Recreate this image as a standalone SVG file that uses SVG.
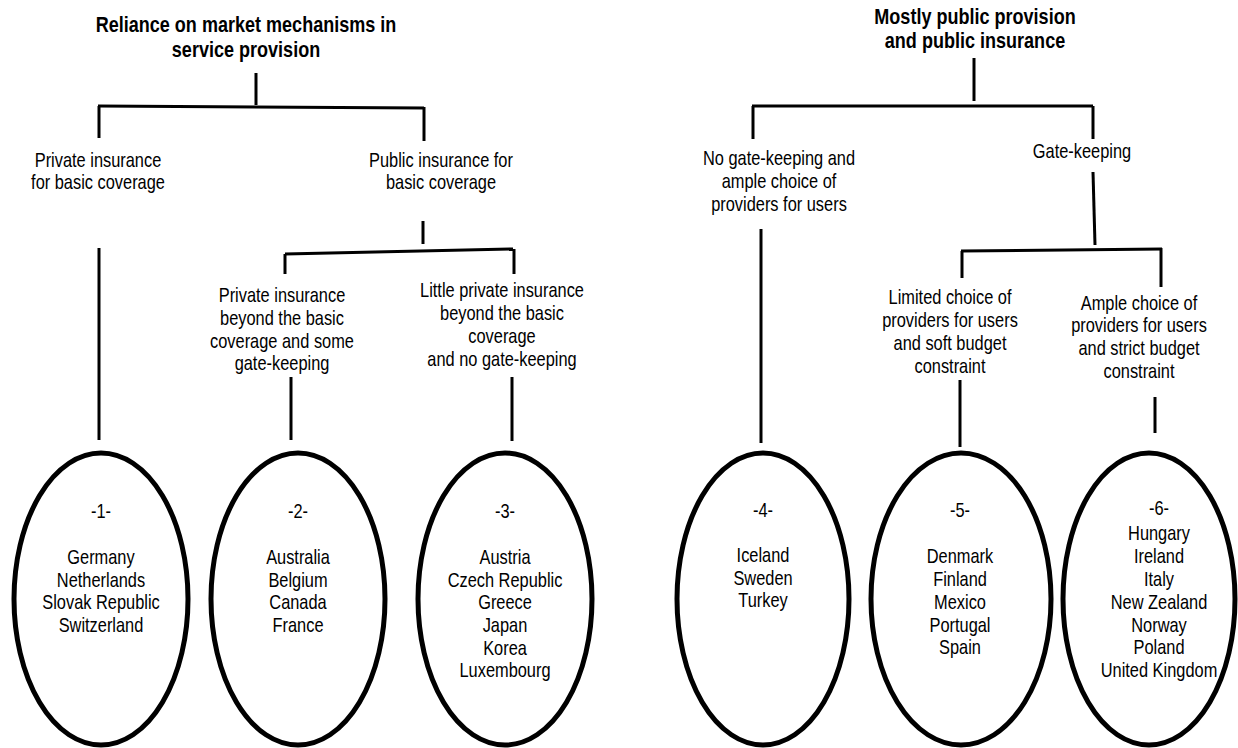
<svg xmlns="http://www.w3.org/2000/svg" width="1238" height="748" viewBox="0 0 1238 748">
<style>
text{font-family:"Liberation Sans",Arial,sans-serif;font-size:20px;fill:#000;text-anchor:middle}
.t{font-weight:bold;font-size:22px}
.c line{stroke:#000;stroke-width:3;fill:none}
ellipse{fill:#fff;stroke:#000;stroke-width:5}
</style>
<rect width="1238" height="748" fill="#fff"/>
<g class="c" id="connectors">
<line x1="256" y1="73" x2="256" y2="105"/>
<line x1="98" y1="106" x2="424" y2="108"/>
<line x1="99" y1="106" x2="99" y2="138"/>
<line x1="424" y1="107" x2="424" y2="141"/>
<line x1="423" y1="221" x2="423" y2="244"/>
<line x1="285" y1="254" x2="513" y2="249"/>
<line x1="285" y1="254" x2="285" y2="274"/>
<line x1="514" y1="249" x2="514" y2="274"/>
<line x1="99" y1="248" x2="99" y2="440"/>
<line x1="291" y1="377" x2="291" y2="440"/>
<line x1="512" y1="377" x2="512" y2="441"/>
<line x1="974" y1="58" x2="974" y2="101"/>
<line x1="752" y1="106" x2="1093" y2="106"/>
<line x1="753" y1="106" x2="753" y2="139"/>
<line x1="1093" y1="106" x2="1093" y2="139"/>
<line x1="1093" y1="172" x2="1095" y2="245"/>
<line x1="961" y1="251" x2="1162" y2="249"/>
<line x1="962" y1="251" x2="962" y2="278"/>
<line x1="1161" y1="248" x2="1161" y2="287"/>
<line x1="761" y1="229" x2="761" y2="443"/>
<line x1="960" y1="380" x2="960" y2="447"/>
<line x1="1155" y1="397" x2="1155" y2="433"/>
</g>
<g id="root-market" transform="translate(246 0) scale(0.82 1)"><text class="t" x="0" y="32">Reliance on market mechanisms in</text><text class="t" x="0" y="57">service provision</text></g>
<g id="root-public" transform="translate(975 0) scale(0.82 1)"><text class="t" x="0" y="24">Mostly public provision</text><text class="t" x="0" y="48">and public insurance</text></g>
<g id="private-basic" transform="translate(98 0) scale(0.82 1)"><text x="0" y="167">Private insurance</text><text x="0" y="189">for basic coverage</text></g>
<g id="public-basic" transform="translate(441 0) scale(0.82 1)"><text x="0" y="167">Public insurance for</text><text x="0" y="189">basic coverage</text></g>
<g id="private-beyond" transform="translate(282 0) scale(0.82 1)"><text x="0" y="302">Private insurance</text><text x="0" y="325">beyond the basic</text><text x="0" y="348">coverage and some</text><text x="0" y="370">gate-keeping</text></g>
<g id="little-private" transform="translate(502 0) scale(0.82 1)"><text x="0" y="297">Little private insurance</text><text x="0" y="320">beyond the basic</text><text x="0" y="343">coverage</text><text x="0" y="366">and no gate-keeping</text></g>
<g id="no-gatekeeping" transform="translate(779 0) scale(0.82 1)"><text x="0" y="165">No gate-keeping and</text><text x="0" y="188">ample choice of</text><text x="0" y="211">providers for users</text></g>
<g id="gatekeeping" transform="translate(1082 0) scale(0.82 1)"><text x="0" y="158">Gate-keeping</text></g>
<g id="limited-choice" transform="translate(950 0) scale(0.82 1)"><text x="0" y="304">Limited choice of</text><text x="0" y="327">providers for users</text><text x="0" y="350">and soft budget</text><text x="0" y="373">constraint</text></g>
<g id="ample-choice" transform="translate(1139 0) scale(0.82 1)"><text x="0" y="310">Ample choice of</text><text x="0" y="332">providers for users</text><text x="0" y="355">and strict budget</text><text x="0" y="378">constraint</text></g>
<g id="group-1"><ellipse cx="101" cy="599" rx="87" ry="146"/><g transform="translate(101 0) scale(0.82 1)"><text x="0" y="518">-1-</text><text x="0" y="564">Germany</text><text x="0" y="587">Netherlands</text><text x="0" y="609">Slovak Republic</text><text x="0" y="632">Switzerland</text></g></g>
<g id="group-2"><ellipse cx="298" cy="599" rx="87" ry="146"/><g transform="translate(298 0) scale(0.82 1)"><text x="0" y="518">-2-</text><text x="0" y="564">Australia</text><text x="0" y="587">Belgium</text><text x="0" y="609">Canada</text><text x="0" y="632">France</text></g></g>
<g id="group-3"><ellipse cx="505" cy="599" rx="87" ry="146"/><g transform="translate(505 0) scale(0.82 1)"><text x="0" y="518">-3-</text><text x="0" y="564">Austria</text><text x="0" y="587">Czech Republic</text><text x="0" y="609">Greece</text><text x="0" y="632">Japan</text><text x="0" y="655">Korea</text><text x="0" y="677">Luxembourg</text></g></g>
<g id="group-4"><ellipse cx="763" cy="599" rx="86" ry="146"/><g transform="translate(763 0) scale(0.82 1)"><text x="0" y="517">-4-</text><text x="0" y="562">Iceland</text><text x="0" y="585">Sweden</text><text x="0" y="607">Turkey</text></g></g>
<g id="group-5"><ellipse cx="961" cy="599" rx="90" ry="146"/><g transform="translate(960 0) scale(0.82 1)"><text x="0" y="517">-5-</text><text x="0" y="563">Denmark</text><text x="0" y="586">Finland</text><text x="0" y="609">Mexico</text><text x="0" y="632">Portugal</text><text x="0" y="654">Spain</text></g></g>
<g id="group-6"><ellipse cx="1149" cy="599" rx="86" ry="146"/><g transform="translate(1159 0) scale(0.82 1)"><text x="0" y="515">-6-</text><text x="0" y="540">Hungary</text><text x="0" y="563">Ireland</text><text x="0" y="586">Italy</text><text x="0" y="609">New Zealand</text><text x="0" y="632">Norway</text><text x="0" y="654">Poland</text><text x="0" y="677">United Kingdom</text></g></g>
</svg>
